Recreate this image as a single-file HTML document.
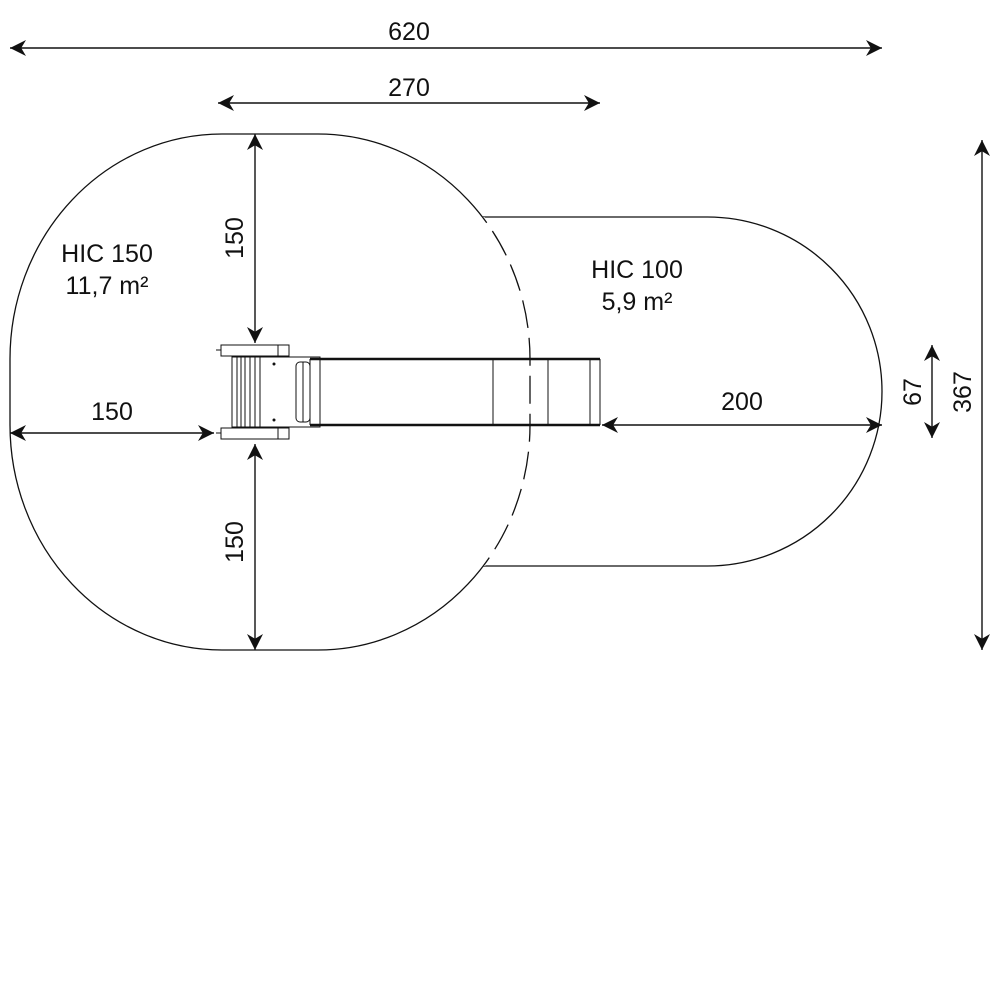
<!DOCTYPE html>
<html><head><style>body{margin:0;background:#fff}svg{display:block}</style></head><body>
<svg width="1000" height="1000" viewBox="0 0 1000 1000" xmlns="http://www.w3.org/2000/svg" font-family="Liberation Sans, DejaVu Sans, sans-serif">
<defs>
<marker id="a" viewBox="0 0 10 10" refX="10" refY="5" markerWidth="16" markerHeight="16" markerUnits="userSpaceOnUse" orient="auto-start-reverse"><path d="M0,0 L10,5 L0,10 L3,5 z" fill="#111"/></marker>
<clipPath id="inR"><rect x="300" y="217" width="582" height="349" rx="174.5" ry="174.5"/></clipPath>
</defs>
<rect x="300" y="217" width="582" height="349" rx="174.5" ry="174.5" fill="none" stroke="#111" stroke-width="1.3"/>
<rect x="10" y="134" width="520" height="516" rx="212" ry="225" fill="#fff" stroke="#111" stroke-width="1.3"/>
<g clip-path="url(#inR)">
<rect x="10" y="134" width="520" height="516" rx="212" ry="225" fill="none" stroke="#fff" stroke-width="3"/>
<rect x="10" y="134" width="520" height="516" rx="212" ry="225" fill="none" stroke="#111" stroke-width="1.3" stroke-dasharray="28,10"/>
</g>
<g fill="none" stroke="#111" stroke-width="1.4" marker-start="url(#a)" marker-end="url(#a)">
<line x1="10" y1="48" x2="882" y2="48"/>
<line x1="218" y1="103" x2="600" y2="103"/>
<line x1="255" y1="134" x2="255" y2="343"/>
<line x1="255" y1="444" x2="255" y2="650"/>
<line x1="10" y1="433" x2="214" y2="433"/>
<line x1="602" y1="425" x2="882" y2="425"/>
<line x1="932" y1="345" x2="932" y2="438"/>
<line x1="982" y1="140" x2="982" y2="650"/>
</g>
<g fill="#fff" stroke="#111" stroke-width="1">
<rect x="221" y="345" width="68" height="11"/><line x1="278" y1="345" x2="278" y2="356"/>
<rect x="221" y="428" width="68" height="11"/><line x1="278" y1="428" x2="278" y2="439"/>
<line x1="216" y1="350" x2="221" y2="350"/><line x1="216" y1="433" x2="221" y2="433"/>
</g>
<g stroke="#111" fill="none">
<rect x="232" y="357" width="88" height="70" stroke-width="1"/>
<line x1="310" y1="359" x2="600" y2="359" stroke-width="2.5"/>
<line x1="310" y1="425" x2="600" y2="425" stroke-width="2.5"/>
<line x1="237" y1="357" x2="237" y2="427"/><line x1="241" y1="357" x2="241" y2="427"/><line x1="245" y1="357" x2="245" y2="427"/>
<line x1="250" y1="357" x2="250" y2="427"/><line x1="255" y1="357" x2="255" y2="427"/><line x1="260" y1="357" x2="260" y2="427"/>
<rect x="296" y="362" width="14" height="60" rx="4"/>
<line x1="303" y1="362" x2="303" y2="422"/>
<line x1="310" y1="359" x2="310" y2="425"/>
<line x1="493" y1="359" x2="493" y2="425"/>
<line x1="548" y1="359" x2="548" y2="425"/>
<line x1="590" y1="359" x2="590" y2="425"/>
<line x1="600" y1="359" x2="600" y2="425"/>
</g>
<g fill="#111"><circle cx="274" cy="364" r="1.5"/><circle cx="274" cy="420" r="1.5"/></g>
<g fill="#111" font-size="25" text-anchor="middle">
<text x="409" y="40">620</text>
<text x="409" y="96">270</text>
<text x="112" y="420">150</text>
<text x="742" y="410">200</text>
<text x="107" y="262">HIC 150</text>
<text x="107" y="294">11,7 m²</text>
<text x="637" y="278">HIC 100</text>
<text x="637" y="310">5,9 m²</text>
<text transform="translate(243,238) rotate(-90)">150</text>
<text transform="translate(243,542) rotate(-90)">150</text>
<text transform="translate(921,392) rotate(-90)">67</text>
<text transform="translate(971,392) rotate(-90)">367</text>
</g>
</svg>
</body></html>
